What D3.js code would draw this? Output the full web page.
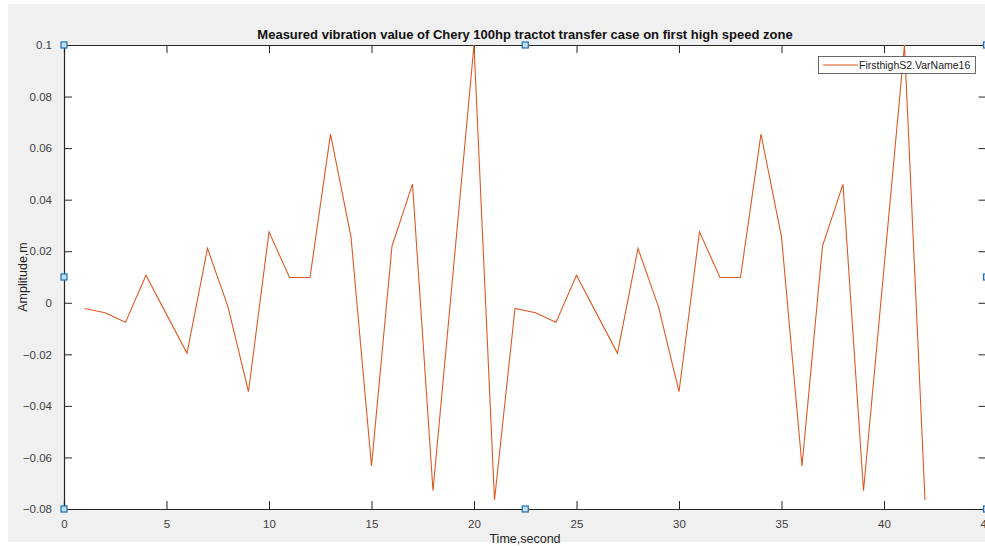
<!DOCTYPE html>
<html>
<head>
<meta charset="utf-8">
<script src="https://cdn.jsdelivr.net/npm/d3@7"></script>
<style>
  body { margin: 0; background: #fff; }
  svg { display: block; font-family: "Liberation Sans", Arial, sans-serif; }
</style>
</head>
<body>
<svg id="chart" width="985" height="546"></svg>
<script>
// time in seconds and measured amplitude (m)
const times = d3.range(1, 43);
const amplitude = [
  -0.0022, -0.0039, -0.0076, 0.0107, -0.0045, -0.0196, 0.0211, -0.0016, -0.0345, 0.0275,
  0.0098, 0.0098, 0.0654, 0.0256, -0.0633, 0.0220, 0.0460, -0.0729, 0.0135, 0.1000, -0.0765,
  -0.0022, -0.0039, -0.0076, 0.0107, -0.0045, -0.0196, 0.0211, -0.0016, -0.0345, 0.0275,
  0.0098, 0.0098, 0.0654, 0.0256, -0.0633, 0.0220, 0.0460, -0.0729, 0.0135, 0.1000, -0.0765
];
const xTicks = [0, 5, 10, 15, 20, 25, 30, 35, 40, 45];
const yTicks = [-0.08, -0.06, -0.04, -0.02, 0, 0.02, 0.04, 0.06, 0.08, 0.1];
const seriesName = "FirsthighS2.VarName16";

const svg = d3.select("#chart");
const W = 985, H = 546;

const x = d3.scaleLinear().domain([0, 45]).range([64, 986.5]);
const y = d3.scaleLinear().domain([-0.08, 0.1]).range([509, 45]);

// figure background
svg.append("rect").attr("x", 8).attr("y", 4).attr("width", W - 8).attr("height", H - 8)
  .attr("fill", "#f0f0f0");
svg.append("rect").attr("x", x(0)).attr("y", y(0.1))
  .attr("width", W - x(0)).attr("height", y(-0.08) - y(0.1)).attr("fill", "#fff");

const axisColor = "#262626";
const fmt = d => d === 0 ? "0" : d3.format("")(+d.toFixed(2));

const gBottom = svg.append("g").attr("transform", `translate(0,${y(-0.08)})`)
  .call(d3.axisBottom(x).tickValues(xTicks).tickSize(-8).tickPadding(11).tickFormat(d3.format("d")));
const gTop = svg.append("g").attr("transform", `translate(0,${y(0.1)})`)
  .call(d3.axisTop(x).tickValues(xTicks).tickSize(-8).tickFormat(""));
const gLeft = svg.append("g").attr("transform", `translate(${x(0)},0)`)
  .call(d3.axisLeft(y).tickValues(yTicks).tickSize(-8).tickPadding(12).tickFormat(fmt));
const gRight = svg.append("g").attr("transform", `translate(${x(45)},0)`)
  .call(d3.axisRight(y).tickValues(yTicks).tickSize(-8).tickFormat(""));

[gBottom, gTop, gLeft, gRight].forEach(g => {
  g.select(".domain").attr("stroke", axisColor).attr("stroke-width", 1.2);
  g.selectAll(".tick line").attr("stroke", axisColor);
  g.selectAll(".tick text").attr("fill", "#404040").attr("font-size", 11.5);
});
// edge ticks coincide with the box
gBottom.selectAll(".tick").filter(d => d === 0 || d === 45).select("line").remove();
gTop.selectAll(".tick").filter(d => d === 0 || d === 45).select("line").remove();
gLeft.selectAll(".tick").filter(d => d === 0.1 || d === -0.08).select("line").remove();

// series line
const line = d3.line().x((d, i) => x(times[i])).y(d => y(d));
svg.append("path").datum(amplitude)
  .attr("d", line).attr("fill", "none")
  .attr("stroke", "#DC5A22").attr("stroke-width", 1.1);

// title and axis labels
svg.append("text").attr("x", 525).attr("y", 39).attr("text-anchor", "middle")
  .attr("font-weight", "bold").attr("font-size", 13).attr("fill", "#111")
  .text("Measured vibration value of Chery 100hp tractot transfer case on first high speed zone");
svg.append("text").attr("x", 525).attr("y", 543).attr("text-anchor", "middle")
  .attr("font-size", 12.5).attr("fill", "#262626").text("Time,second");
svg.append("text").attr("transform", `translate(27,${y(0.01)}) rotate(-90)`)
  .attr("text-anchor", "middle").attr("font-size", 12.5).attr("fill", "#262626")
  .text("Amplitude,m");

// legend
const lg = svg.append("g");
lg.append("rect").attr("x", 818.5).attr("y", 56.5).attr("width", 157).attr("height", 17)
  .attr("fill", "#fff").attr("stroke", "#444").attr("stroke-width", 0.8);
lg.append("line").attr("x1", 823).attr("x2", 858).attr("y1", 65).attr("y2", 65)
  .attr("stroke", "#DC5A22").attr("stroke-width", 1.1);
lg.append("text").attr("x", 859).attr("y", 69).attr("font-size", 10.5).attr("fill", "#222")
  .text(seriesName);

// axes selection handles
const handles = [[0, 0.1], [22.5, 0.1], [45, 0.1], [0, 0.01], [45, 0.01], [0, -0.08], [22.5, -0.08], [45, -0.08]];
svg.append("g").selectAll("rect").data(handles).join("rect")
  .attr("x", d => x(d[0]) - 3).attr("y", d => y(d[1]) - 3)
  .attr("width", 6).attr("height", 6)
  .attr("fill", "#bfe0f5").attr("stroke", "#1f6fb0").attr("stroke-width", 1.2);
</script>
</body>
</html>
